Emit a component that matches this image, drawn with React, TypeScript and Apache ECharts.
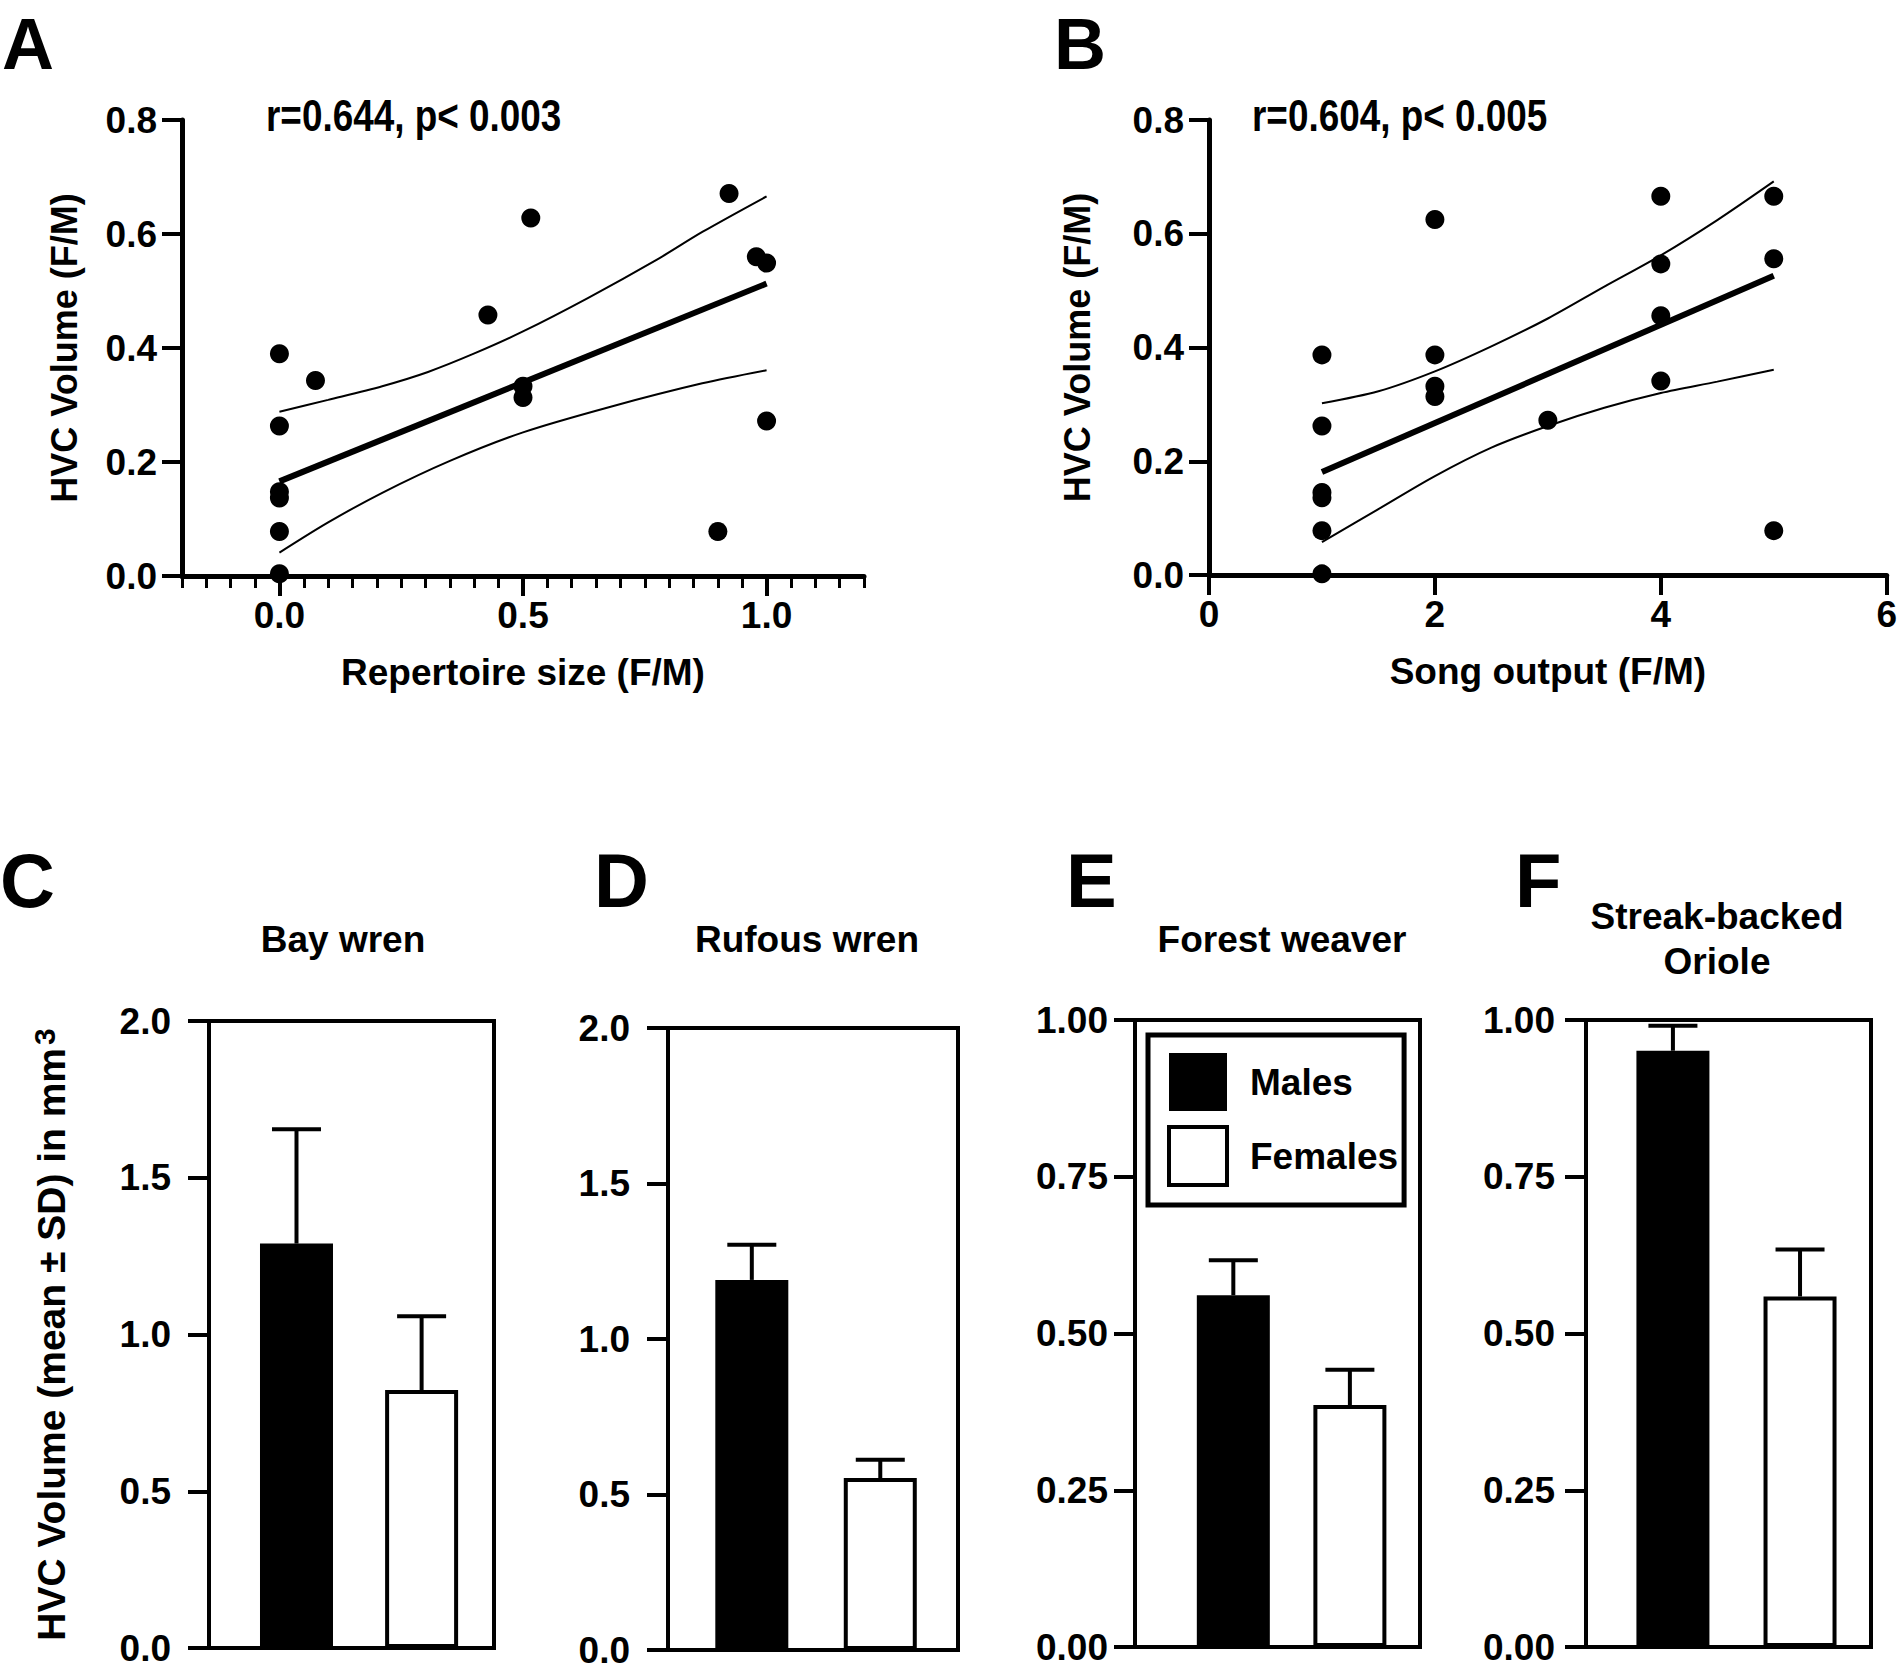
import React, { useEffect, useRef } from "react";
import * as echarts from "echarts";

const FONT = '"Liberation Sans", Arial, Helvetica, sans-serif';

// ---------- Panel A: HVC volume vs repertoire size ----------
const repertoireSize = [0, 0.074, 0, 0, 0, 0, 0, 0.428, 0.516, 0.5, 0.5, 0.923, 0.979, 1.0, 1.0, 0.9];
const hvcA = [0.39, 0.343, 0.263, 0.148, 0.137, 0.078, 0.004, 0.458, 0.628, 0.333, 0.313, 0.671, 0.56, 0.549, 0.272, 0.078];
const fitAX = [0, 1];
const fitAY = [0.166, 0.513];
const ciAUpperX = [0, 0.1, 0.211, 0.305, 0.399, 0.5, 0.634, 0.775, 0.869, 1.0];
const ciAUpperY = [0.288, 0.309, 0.333, 0.358, 0.39, 0.429, 0.488, 0.555, 0.604, 0.666];
const ciALowerX = [0, 0.1, 0.211, 0.35, 0.5, 0.68, 0.868, 1.0];
const ciALowerY = [0.041, 0.094, 0.146, 0.202, 0.252, 0.297, 0.338, 0.361];
const aTickValues = [0, 0.5, 1.0];
const statA = "r=0.644, p< 0.003";

// ---------- Panel B: HVC volume vs song output ----------
const songOutput = [1, 1, 1, 1, 1, 1, 2, 2, 2, 2, 3, 4, 4, 4, 4, 5, 5, 5];
const hvcB = [0.387, 0.262, 0.145, 0.136, 0.078, 0.002, 0.625, 0.387, 0.332, 0.314, 0.272, 0.666, 0.547, 0.456, 0.341, 0.666, 0.556, 0.078];
const fitBX = [1, 5];
const fitBY = [0.181, 0.526];
const ciBX = [1, 1.5, 2, 2.5, 3, 3.5, 4, 4.5, 5];
const ciBUpper = [0.302, 0.323, 0.358, 0.402, 0.451, 0.507, 0.562, 0.624, 0.692];
const ciBLower = [0.058, 0.116, 0.174, 0.224, 0.262, 0.294, 0.32, 0.34, 0.361];
const statB = "r=0.604, p< 0.005";

// ---------- Panels C-F: HVC volume (mean ± SD) ----------
const species = ["Bay wren", "Rufous wren", "Forest weaver", "Streak-backed\nOriole"];
const panelLetters = ["C", "D", "E", "F"];
const maleMean = [1.29, 1.19, 0.561, 0.951];
const maleSD = [0.365, 0.113, 0.056, 0.04];
const femaleMean = [0.823, 0.553, 0.386, 0.559];
const femaleSD = [0.235, 0.059, 0.056, 0.075];
const barAxisMax = [2, 2, 1, 1];
const barAxisStep = [0.5, 0.5, 0.25, 0.25];
const barAxisDecimals = [1, 1, 2, 2];
const sexes = ["Males", "Females"];

const zip = (xs: number[], ys: number[]) => xs.map((x, i) => [x, ys[i]]);

// ---------- layout (pixels / relative positions inside each box) ----------
const bottomGrids = [
  { left: 209, top: 1021, width: 285, height: 627 },
  { left: 668, top: 1028, width: 290, height: 622 },
  { left: 1135, top: 1020, width: 285, height: 627 },
  { left: 1586, top: 1020, width: 285, height: 627 },
];
const maleBarPos = [0.307, 0.289, 0.345, 0.305];
const femaleBarPos = [0.746, 0.732, 0.754, 0.751];
const barWidth = 73;
const titleX = [343, 807, 1282, 1717];
const letterX = [0, 594, 1066, 1515];
const yLabelMargin = [38, 38, 27, 31];

const black = "#000";
const txt = (size: number) => ({
  color: black,
  fontFamily: FONT,
  fontWeight: "bold" as const,
  fontSize: size,
});

function buildOption() {
  const grid: any[] = [
    { left: 182, top: 120, width: 682, height: 456 },
    { left: 1209, top: 120, width: 680, height: 455 },
    ...bottomGrids.map((g) => ({
      ...g,
      show: true,
      borderColor: black,
      borderWidth: 4,
      backgroundColor: "transparent",
    })),
  ];

  const axisLine = { show: true, onZero: false, lineStyle: { color: black, width: 5 } };
  const tick = (len: number, w = 4) => ({ show: true, length: len, lineStyle: { color: black, width: w } });

  const xAxis: any[] = [
    {
      gridIndex: 0,
      type: "value",
      min: -0.2,
      max: 1.2,
      splitLine: { show: false },
      axisLine,
      axisTick: { ...tick(20), customValues: aTickValues },
      axisLabel: {
        ...txt(37),
        margin: 21,
        customValues: aTickValues,
        formatter: (v: number) => v.toFixed(1),
      },
      name: "Repertoire size (F/M)",
      nameLocation: "middle",
      nameGap: 78,
      nameTextStyle: txt(37),
    },
    {
      gridIndex: 0,
      type: "value",
      position: "bottom",
      min: -0.2,
      max: 1.2,
      interval: 0.05,
      splitLine: { show: false },
      axisLine: { show: false, onZero: false },
      axisTick: tick(12, 3),
      axisLabel: { show: false },
    },
    {
      gridIndex: 1,
      type: "value",
      min: 0,
      max: 6,
      interval: 2,
      splitLine: { show: false },
      axisLine,
      axisTick: tick(20),
      axisLabel: { ...txt(37), margin: 21 },
      name: "Song output (F/M)",
      nameLocation: "middle",
      nameGap: 78,
      nameTextStyle: txt(37),
    },
    ...bottomGrids.map((_, i) => ({
      gridIndex: 2 + i,
      type: "value",
      min: 0,
      max: 1,
      splitLine: { show: false },
      axisLine: { show: true, onZero: false, lineStyle: { color: black, width: 4 } },
      axisTick: { show: false },
      axisLabel: { show: false },
    })),
  ];

  const yAxis: any[] = [
    {
      gridIndex: 0,
      type: "value",
      min: 0,
      max: 0.8,
      interval: 0.2,
      splitLine: { show: false },
      axisLine,
      axisTick: tick(20),
      axisLabel: { ...txt(37), margin: 25, formatter: (v: number) => v.toFixed(1) },
      name: "HVC Volume (F/M)",
      nameLocation: "middle",
      nameGap: 100,
      nameTextStyle: txt(36),
    },
    {
      gridIndex: 1,
      type: "value",
      min: 0,
      max: 0.8,
      interval: 0.2,
      splitLine: { show: false },
      axisLine,
      axisTick: tick(20),
      axisLabel: { ...txt(37), margin: 25, formatter: (v: number) => v.toFixed(1) },
      name: "HVC Volume (F/M)",
      nameLocation: "middle",
      nameGap: 114,
      nameTextStyle: txt(36),
    },
    ...bottomGrids.map((_, i) => ({
      gridIndex: 2 + i,
      type: "value",
      min: 0,
      max: barAxisMax[i],
      interval: barAxisStep[i],
      splitLine: { show: false },
      axisLine: { show: true, onZero: false, lineStyle: { color: black, width: 4 } },
      axisTick: tick(21),
      axisLabel: {
        ...txt(37),
        margin: yLabelMargin[i],
        formatter: (v: number) => v.toFixed(barAxisDecimals[i]),
      },
      ...(i === 0
        ? {
            name: "HVC Volume (mean ± SD) in mm{sup|3}",
            nameLocation: "middle",
            nameGap: 136,
            nameTextStyle: {
              ...txt(39),
              rich: {
                sup: { ...txt(30), verticalAlign: "top", padding: [0, 0, 14, 3] },
              },
            },
          }
        : {}),
    })),
  ];

  const series: any[] = [];
  const ciLine = (xi: number, yi: number, data: number[][]) => ({
    type: "line",
    xAxisIndex: xi,
    yAxisIndex: yi,
    data,
    smooth: 0.3,
    showSymbol: false,
    lineStyle: { color: black, width: 2 },
  });
  const fitLine = (xi: number, yi: number, data: number[][]) => ({
    type: "line",
    xAxisIndex: xi,
    yAxisIndex: yi,
    data,
    showSymbol: false,
    lineStyle: { color: black, width: 6 },
  });
  const dots = (xi: number, yi: number, data: number[][]) => ({
    type: "scatter",
    xAxisIndex: xi,
    yAxisIndex: yi,
    data,
    symbol: "circle",
    symbolSize: 19,
    itemStyle: { color: black, opacity: 1 },
    z: 5,
  });

  series.push(
    ciLine(0, 0, zip(ciAUpperX, ciAUpperY)),
    ciLine(0, 0, zip(ciALowerX, ciALowerY)),
    fitLine(0, 0, zip(fitAX, fitAY)),
    dots(0, 0, zip(repertoireSize, hvcA)),
    ciLine(2, 1, zip(ciBX, ciBUpper)),
    ciLine(2, 1, zip(ciBX, ciBLower)),
    fitLine(2, 1, zip(fitBX, fitBY)),
    dots(2, 1, zip(songOutput, hvcB))
  );

  // Panels C-F
  const errRenderer = (params: any, api: any) => {
    const base = api.coord([api.value(0), api.value(1)]);
    const top = api.coord([api.value(0), api.value(1) + api.value(2)]);
    const x = base[0];
    const half = 24.5;
    return {
      type: "group",
      children: [
        {
          type: "line",
          shape: { x1: x, y1: base[1], x2: x, y2: top[1] },
          style: { stroke: black, lineWidth: 4 },
        },
        {
          type: "line",
          shape: { x1: x - half, y1: top[1], x2: x + half, y2: top[1] },
          style: { stroke: black, lineWidth: 4 },
        },
      ],
    };
  };

  bottomGrids.forEach((_, i) => {
    const xi = 3 + i;
    const yi = 2 + i;
    series.push(
      {
        type: "bar",
        name: sexes[0],
        xAxisIndex: xi,
        yAxisIndex: yi,
        data: [[maleBarPos[i], maleMean[i]]],
        barWidth,
        barGap: "-100%",
        itemStyle: { color: black },
      },
      {
        type: "bar",
        name: sexes[1],
        xAxisIndex: xi,
        yAxisIndex: yi,
        data: [[femaleBarPos[i], femaleMean[i]]],
        barWidth,
        barGap: "-100%",
        itemStyle: { color: "#fff", borderColor: black, borderWidth: 4 },
      },
      {
        type: "custom",
        name: "Males SD",
        xAxisIndex: xi,
        yAxisIndex: yi,
        data: [[maleBarPos[i], maleMean[i], maleSD[i]]],
        encode: { x: 0, y: 1 },
        renderItem: errRenderer,
        z: 4,
      },
      {
        type: "custom",
        name: "Females SD",
        xAxisIndex: xi,
        yAxisIndex: yi,
        data: [[femaleBarPos[i], femaleMean[i], femaleSD[i]]],
        encode: { x: 0, y: 1 },
        renderItem: errRenderer,
        z: 4,
      }
    );
  });

  const textEl = (
    text: string,
    x: number,
    y: number,
    size: number,
    align = "left",
    lineHeight?: number,
    scaleX = 1,
    vAlign = "middle"
  ) => ({
    type: "text",
    x,
    y,
    scaleX,
    style: {
      text,
      fill: black,
      fontFamily: FONT,
      fontWeight: "bold",
      fontSize: size,
      lineHeight: lineHeight || size,
      textAlign: align,
      align,
      textVerticalAlign: vAlign,
      verticalAlign: vAlign,
    },
  });

  const graphic: any[] = [
    textEl("A", 2, 8, 72, "left", 72, 1, "top"),
    textEl("B", 1054, 8, 72, "left", 72, 1, "top"),
    textEl(statA, 266, 116, 45, "left", 45, 0.82),
    textEl(statB, 1252, 116, 45, "left", 45, 0.82),
    ...panelLetters.map((l, i) => textEl(l, letterX[i], 880, 76)),
    ...species.map((s, i) => textEl(s, titleX[i], 939, 37, "center", 45)),
  ];

  return {
    animation: false,
    backgroundColor: "#fff",
    textStyle: { fontFamily: FONT },
    grid,
    xAxis,
    yAxis,
    series,
    graphic,
    legend: {
      show: true,
      data: [
        { name: sexes[0], icon: "rect", itemStyle: { color: black, borderWidth: 0 } },
        { name: sexes[1], icon: "rect", itemStyle: { color: "#fff", borderColor: black, borderWidth: 4 } },
      ],
      orient: "vertical",
      left: 1148,
      top: 1035,
      itemWidth: 58,
      itemHeight: 58,
      itemGap: 14,
      padding: [18, 6, 18, 19],
      borderColor: black,
      borderWidth: 5,
      backgroundColor: "#fff",
      selectedMode: false,
      textStyle: { ...txt(37), padding: [0, 0, 0, 18] },
    },
  };
}

export default function App() {
  const ref = useRef<HTMLDivElement>(null);
  useEffect(() => {
    document.body.style.margin = "0";
    const chart = echarts.init(ref.current as HTMLDivElement, undefined, { renderer: "svg" });
    chart.setOption(buildOption() as any);
    return () => chart.dispose();
  }, []);
  return (
    <div
      ref={ref}
      style={{ position: "absolute", left: 0, top: 0, width: 1900, height: 1669, background: "#fff" }}
    />
  );
}
